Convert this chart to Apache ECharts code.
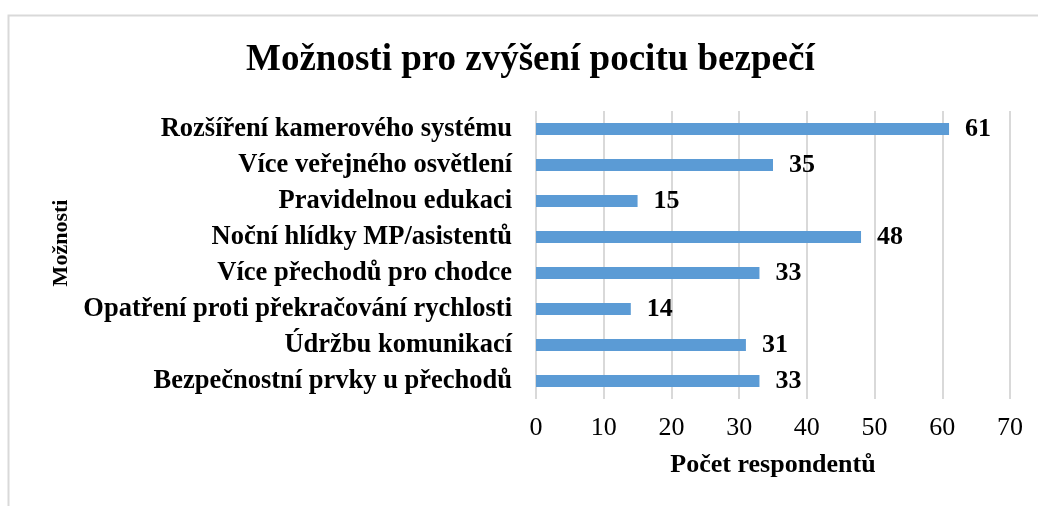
<!DOCTYPE html>
<html>
<head>
<meta charset="utf-8">
<script src="https://cdn.jsdelivr.net/npm/echarts@6/dist/echarts.min.js"></script>
<style>
  html, body { margin: 0; padding: 0; background: #fff; }
  #chart { width: 1038px; height: 506px; }
</style>
</head>
<body>
<div id="chart"></div>
<script>
var categories = [
    'Rozšíření kamerového systému',
    'Více veřejného osvětlení',
    'Pravidelnou edukaci',
    'Noční hlídky MP/asistentů',
    'Více přechodů pro chodce',
    'Opatření proti překračování rychlosti',
    'Údržbu komunikací',
    'Bezpečnostní prvky u přechodů'
];
var counts = [61, 35, 15, 48, 33, 14, 31, 33];

var serif = "'Liberation Serif', 'Times New Roman', serif";

var chart = echarts.init(document.getElementById('chart'));

var option = {
    backgroundColor: '#fff',
    animation: false,
    title: {
        text: 'Možnosti pro zvýšení pocitu bezpečí',
        left: 241,
        top: 37,
        textStyle: {
            fontFamily: serif,
            fontSize: 37,
            fontWeight: 'bold',
            color: '#000'
        }
    },
    graphic: [{
        type: 'rect',
        shape: {x: 8.5, y: 15.5, width: 1100, height: 600},
        style: {fill: 'none', stroke: '#d9d9d9', lineWidth: 2},
        silent: true
    }, {
        // nazev osy Y
        type: 'text',
        x: 61,
        y: 243,
        rotation: Math.PI / 2,
        style: {
            text: 'Možnosti',
            fontFamily: serif,
            fontSize: 22,
            fontWeight: 'bold',
            fill: '#000',
            align: 'center',
            verticalAlign: 'middle'
        },
        silent: true
    }],
    grid: {
        left: 536,
        right: 28,
        top: 111,
        bottom: 107
    },
    xAxis: {
        type: 'value',
        min: 0,
        max: 70,
        interval: 10,
        name: 'Počet respondentů',
        nameLocation: 'middle',
        nameGap: 53,
        nameTextStyle: {
            fontFamily: serif,
            fontSize: 26,
            fontWeight: 'bold',
            color: '#000'
        },
        axisLine: {show: false},
        axisTick: {show: false},
        axisLabel: {
            margin: 16,
            fontFamily: serif,
            fontSize: 26,
            color: '#000'
        },
        splitLine: {lineStyle: {color: '#d9d9d9', width: 2}}
    },
    yAxis: {
        type: 'category',
        data: categories,
        inverse: true,
        axisLine: {show: false},
        axisTick: {show: false},
        axisLabel: {
            margin: 24,
            fontFamily: serif,
            fontSize: 26.5,
            fontWeight: 'bold',
            color: '#000'
        }
    },
    series: [{
        type: 'bar',
        data: counts,
        barWidth: 12,
        itemStyle: {color: '#5b9bd5'},
        label: {
            show: true,
            position: 'right',
            distance: 16,
            fontFamily: serif,
            fontSize: 26,
            fontWeight: 'bold',
            color: '#000'
        }
    }]
};

chart.setOption(option);
</script>
</body>
</html>
